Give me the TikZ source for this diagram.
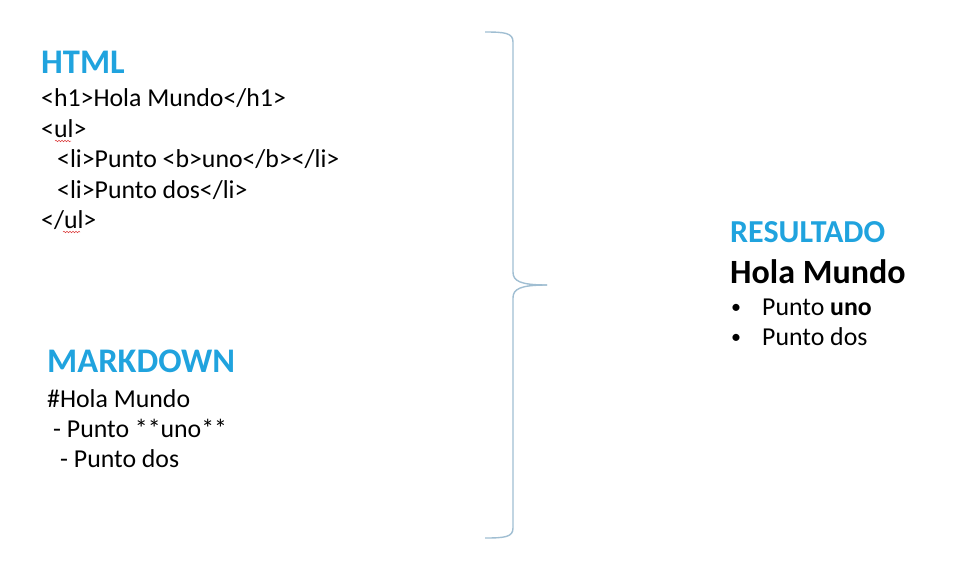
\documentclass[tikz,border=0pt]{standalone}
\usepackage{fontspec}
\setmainfont{Carlito}
\usetikzlibrary{decorations.pathmorphing}
\definecolor{headblue}{RGB}{32,163,222}
\definecolor{bracecol}{RGB}{160,190,210}
\definecolor{spellred}{RGB}{220,60,60}
\tikzset{
  head/.style={anchor=base west, inner sep=0pt, font=\fontsize{34.5}{34.5}\selectfont\bfseries, text=headblue},
  reshd/.style={anchor=base west, inner sep=0pt, font=\fontsize{32}{32}\selectfont\bfseries, text=headblue},
  code/.style={anchor=base west, inner sep=0pt, font=\fontsize{25.8}{25.8}\selectfont, text=black},
  bul/.style={anchor=base west, inner sep=0pt, font=\fontsize{20}{20}\selectfont, text=black},
  reshead/.style={anchor=base west, inner sep=0pt, font=\fontsize{34}{34}\selectfont\bfseries, text=black},
  brace/.style={draw=bracecol, line width=1.4pt},
  squiggle/.style={draw=spellred, line width=0.5pt, decorate, decoration={snake, amplitude=0.8pt, segment length=3pt}}
}
\begin{document}
\begin{tikzpicture}[x=1pt,y=-1pt]
\useasboundingbox (0,0) rectangle (961,581);
% HTML block
\node[head] (html) at (41,73) {HTML};
\node[code] (h1) at (41,106) {<h1>Hola Mundo</h1>};
\node[code] (ul) at (41,137) {<ul>};
\node[code] (li1) at (57,167) {<li>Punto <b>uno</b></li>};
\node[code] (li2) at (57,198) {<li>Punto dos</li>};
\node[code] (eul) at (41,228) {</ul>};
\draw[squiggle] (55,141) -- (71,141);
\draw[squiggle] (63,232) -- (80,232);
% Markdown block
\node[head] (md) at (47,372) {MARKDOWN};
\node[code] (m1) at (47,407) {\#Hola Mundo};
\node[code] (m2) at (53,437) {- Punto **uno**};
\node[code] (m3) at (60,467) {- Punto dos};
% Brace
\draw[brace] (485,32) .. controls (505,32) and (513,33) .. (513,42)
  -- (513,272) .. controls (513,281) and (520,285) .. (547,285);
\draw[brace] (547,285) .. controls (520,285) and (513,289) .. (513,298)
  -- (513,528) .. controls (513,537) and (505,538) .. (485,538);
% Result block
\node[reshd] (res) at (730,242) {RESULTADO};
\node[reshead] (hm) at (730,283) {Hola Mundo};
\node[bul] (b1) at (731,313) {•};
\node[code] (r1) at (762,315) {Punto \textbf{uno}};
\node[bul] (b2) at (731,343) {•};
\node[code] (r2) at (762,345) {Punto dos};
\end{tikzpicture}
\end{document}
